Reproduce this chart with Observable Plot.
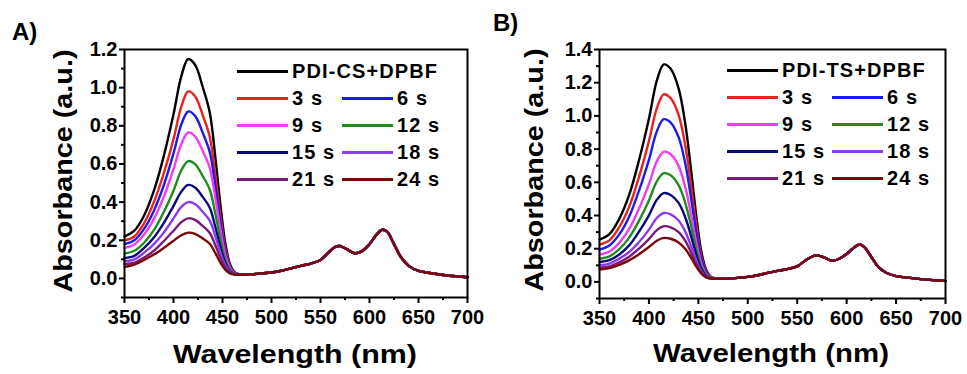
<!DOCTYPE html>
<html>
<head>
<meta charset="utf-8">
<script src="https://cdn.jsdelivr.net/npm/d3@7"></script>
<script src="https://cdn.jsdelivr.net/npm/@observablehq/plot@0.6"></script>
<style>
  html, body { margin: 0; padding: 0; background: #fff; }
  #wrap { position: relative; width: 967px; height: 374px; overflow: hidden; font-family: "Liberation Sans", Arial, sans-serif; font-weight: bold; color: #000; }
  .panel { position: absolute; top: 0; height: 374px; }
  .letter { position: absolute; font-size: 24px; line-height: 24px; }
  .legend { position: absolute; display: grid; grid-template-columns: 105px auto; grid-auto-rows: 27px; font-size: 20px; letter-spacing: 1.1px; }
  .legend .cell { display: flex; align-items: center; white-space: nowrap; }
  .legend .cell.wide { grid-column: 1 / span 2; }
  .legend .sw { display: inline-block; width: 51px; height: 3px; margin-right: 4px; }
  .legend .tx { line-height: 1; }
</style>
</head>
<body>
<div id="wrap">
  <div class="panel" id="pA" style="left:0; width:483px;"></div>
  <div class="panel" id="pB" style="left:483px; width:484px;"></div>
</div>
<script>
// ---- data ----
const seriesNames = ["DPBF", "3 s", "6 s", "9 s", "12 s", "15 s", "18 s", "21 s", "24 s"];
const seriesColors = ["#000000", "#e8221f", "#1c1ce6", "#f23cf2", "#1f8c1f", "#0a0a7a", "#8a3cec", "#7a1a7a", "#7a0a0a"];
const legendNamesA = ["PDI-CS+DPBF", "3 s", "6 s", "9 s", "12 s", "15 s", "18 s", "21 s", "24 s"];
const legendNamesB = ["PDI-TS+DPBF", "3 s", "6 s", "9 s", "12 s", "15 s", "18 s", "21 s", "24 s"];

const headW = [350, 360, 370, 380, 390, 400, 408, 415, 422, 430, 437, 443, 448, 453, 458, 463, 470];
const tailW = [480, 490, 500, 510, 520, 530, 540, 550, 558, 565, 570, 577, 585, 592, 600, 607, 613, 618, 625, 632, 640, 650, 660, 675, 690, 700];

// Panel A (PDI-CS + DPBF)
const headA_black   = [0.22, 0.25, 0.33, 0.46, 0.64, 0.86, 1.06, 1.15, 1.12, 1.00, 0.87, 0.62, 0.38, 0.18, 0.07, 0.03, 0.02];
const headA_red     = [0.20, 0.22, 0.29, 0.40, 0.55, 0.73, 0.90, 0.98, 0.955, 0.853, 0.742, 0.528, 0.323, 0.154, 0.062, 0.028, 0.02];
const headA_blue    = [0.18, 0.20, 0.26, 0.355, 0.487, 0.655, 0.807, 0.875, 0.852, 0.761, 0.662, 0.472, 0.289, 0.137, 0.055, 0.026, 0.02];
const headA_magenta = [0.16, 0.178, 0.23, 0.312, 0.426, 0.572, 0.705, 0.765, 0.745, 0.666, 0.579, 0.412, 0.252, 0.12, 0.05, 0.025, 0.02];
const headA_green   = [0.13, 0.145, 0.187, 0.253, 0.347, 0.46, 0.567, 0.615, 0.599, 0.535, 0.466, 0.331, 0.203, 0.097, 0.042, 0.024, 0.02];
const headA_navy    = [0.107, 0.118, 0.16, 0.215, 0.29, 0.38, 0.455, 0.49, 0.477, 0.426, 0.371, 0.264, 0.162, 0.08, 0.036, 0.022, 0.02];
const headA_violet  = [0.09, 0.10, 0.135, 0.18, 0.24, 0.315, 0.375, 0.40, 0.39, 0.348, 0.303, 0.216, 0.134, 0.067, 0.032, 0.021, 0.02];
const headA_purple  = [0.075, 0.083, 0.11, 0.145, 0.195, 0.25, 0.295, 0.315, 0.307, 0.274, 0.238, 0.17, 0.106, 0.055, 0.028, 0.02, 0.019];
const headA_wine    = [0.06, 0.072, 0.097, 0.125, 0.16, 0.198, 0.226, 0.24, 0.234, 0.209, 0.182, 0.13, 0.082, 0.045, 0.025, 0.02, 0.019];
const tailA = [0.022, 0.026, 0.031, 0.04, 0.053, 0.066, 0.078, 0.097, 0.135, 0.165, 0.17, 0.152, 0.132, 0.142, 0.18, 0.228, 0.255, 0.245, 0.18, 0.112, 0.066, 0.04, 0.03, 0.018, 0.01, 0.006];

// Panel B (PDI-TS + DPBF)
const headB_black   = [0.255, 0.288, 0.38, 0.524, 0.734, 0.983, 1.212, 1.31, 1.284, 1.166, 0.943, 0.655, 0.393, 0.183, 0.072, 0.03, 0.02];
const headB_red     = [0.225, 0.25, 0.33, 0.452, 0.633, 0.848, 1.045, 1.13, 1.107, 1.006, 0.814, 0.565, 0.339, 0.158, 0.064, 0.028, 0.02];
const headB_blue    = [0.195, 0.219, 0.286, 0.393, 0.55, 0.735, 0.907, 0.98, 0.96, 0.872, 0.706, 0.49, 0.294, 0.137, 0.056, 0.025, 0.02];
const headB_magenta = [0.165, 0.183, 0.235, 0.319, 0.442, 0.589, 0.726, 0.785, 0.769, 0.699, 0.565, 0.393, 0.236, 0.11, 0.046, 0.023, 0.02];
const headB_green   = [0.14, 0.154, 0.197, 0.267, 0.369, 0.491, 0.606, 0.655, 0.642, 0.583, 0.472, 0.328, 0.197, 0.094, 0.04, 0.022, 0.02];
const headB_navy    = [0.12, 0.131, 0.165, 0.22, 0.303, 0.401, 0.495, 0.535, 0.524, 0.476, 0.385, 0.268, 0.162, 0.079, 0.035, 0.021, 0.02];
const headB_violet  = [0.10, 0.11, 0.14, 0.18, 0.24, 0.315, 0.385, 0.415, 0.407, 0.37, 0.30, 0.21, 0.128, 0.065, 0.03, 0.02, 0.019];
const headB_purple  = [0.085, 0.093, 0.118, 0.152, 0.20, 0.258, 0.312, 0.335, 0.329, 0.30, 0.245, 0.172, 0.107, 0.056, 0.028, 0.02, 0.019];
const headB_wine    = [0.075, 0.083, 0.103, 0.13, 0.167, 0.21, 0.248, 0.265, 0.26, 0.238, 0.197, 0.142, 0.09, 0.05, 0.027, 0.02, 0.019];
const tailB = [0.02, 0.024, 0.03, 0.04, 0.054, 0.066, 0.077, 0.094, 0.128, 0.153, 0.16, 0.148, 0.128, 0.138, 0.168, 0.205, 0.225, 0.21, 0.15, 0.09, 0.055, 0.035, 0.027, 0.017, 0.01, 0.006];

const xTicks = [350, 400, 450, 500, 550, 600, 650, 700];
const xMinorTicks = [375, 425, 475, 525, 575, 625, 675];
const yTicksA = [0.0, 0.2, 0.4, 0.6, 0.8, 1.0, 1.2];
const yMinorA = [-0.1, 0.1, 0.3, 0.5, 0.7, 0.9, 1.1];
const yTicksB = [0.0, 0.2, 0.4, 0.6, 0.8, 1.0, 1.2, 1.4];
const yMinorB = [-0.1, 0.1, 0.3, 0.5, 0.7, 0.9, 1.1, 1.3];

// ---- build tables ----
const headsA = [headA_black, headA_red, headA_blue, headA_magenta, headA_green, headA_navy, headA_violet, headA_purple, headA_wine];
const headsB = [headB_black, headB_red, headB_blue, headB_magenta, headB_green, headB_navy, headB_violet, headB_purple, headB_wine];
function buildRows(heads, tail) {
  const rows = [];
  heads.forEach((h, i) => {
    headW.forEach((w, j) => rows.push({series: seriesNames[i], w, v: h[j]}));
    tailW.forEach((w, j) => rows.push({series: seriesNames[i], w, v: tail[j]}));
  });
  return rows;
}
const rowsA = buildRows(headsA, tailA);
const rowsB = buildRows(headsB, tailB);

function makePanel(el, cfg) {
  const svg = Plot.plot({
    width: cfg.width, height: 374,
    marginLeft: cfg.ml, marginRight: cfg.mr, marginTop: 49, marginBottom: cfg.mb,
    x: {domain: [350, 700]},
    y: {domain: cfg.ydom},
    color: {domain: seriesNames, range: seriesColors},
    style: {fontFamily: '"Liberation Sans", Arial, sans-serif', fontSize: "20px", fontWeight: "bold", color: "#000", background: "transparent", overflow: "visible"},
    marks: [
      Plot.line(cfg.rows, {x: "w", y: "v", z: "series", stroke: "series", strokeWidth: 2.4, curve: "catmull-rom"}),
      Plot.frame({stroke: "#000", strokeWidth: 2}),
      Plot.axisX({ticks: xTicks, tickSize: 6, tickPadding: 6, tickFormat: d => String(d), label: null, strokeWidth: 2}),
      Plot.axisX({ticks: xMinorTicks, tickSize: 3, tickFormat: () => "", label: null, strokeWidth: 2}),
      Plot.axisY({ticks: cfg.yticks, tickSize: 5, tickPadding: 2, tickFormat: d3.format(".1f"), label: null, strokeWidth: 2}),
      Plot.axisY({ticks: cfg.yminor, tickSize: 3, tickFormat: () => "", label: null, strokeWidth: 2})
    ]
  });
  const s = d3.select(svg);
  s.append("text")
    .attr("x", cfg.xtitleX).attr("y", cfg.xtitleY)
    .attr("text-anchor", "middle")
    .attr("font-size", 26).attr("font-weight", "bold").attr("fill", "#000")
    .attr("textLength", cfg.xtitleLen).attr("lengthAdjust", "spacingAndGlyphs")
    .text("Wavelength (nm)");
  s.append("text")
    .attr("transform", `translate(${cfg.ytitleX},${cfg.ytitleY}) rotate(-90)`)
    .attr("text-anchor", "middle")
    .attr("font-size", 26).attr("font-weight", "bold").attr("fill", "#000")
    .attr("textLength", 243).attr("lengthAdjust", "spacingAndGlyphs")
    .text("Absorbance (a.u.)");
  el.appendChild(svg);

  const letter = document.createElement("div");
  letter.className = "letter";
  letter.style.left = cfg.letterX + "px";
  letter.style.top = cfg.letterY + "px";
  letter.textContent = cfg.letter;
  el.appendChild(letter);

  const lg = document.createElement("div");
  lg.className = "legend";
  lg.style.left = cfg.legX + "px";
  lg.style.top = cfg.legY + "px";
  cfg.legendNames.forEach((name, i) => {
    const c = document.createElement("div");
    c.className = "cell" + (i === 0 ? " wide" : "");
    const sw = document.createElement("span");
    sw.className = "sw";
    sw.style.background = seriesColors[i];
    const tx = document.createElement("span");
    tx.className = "tx";
    tx.textContent = name;
    c.appendChild(sw); c.appendChild(tx);
    lg.appendChild(c);
  });
  el.appendChild(lg);
}

makePanel(document.getElementById("pA"), {
  width: 483, ml: 124, mr: 16, mb: 77, ydom: [-0.1, 1.2], rows: rowsA,
  yticks: yTicksA, yminor: yMinorA,
  xtitleX: 295, xtitleY: 363, xtitleLen: 244, ytitleX: 72, ytitleY: 171,
  letter: "A)", letterX: 12, letterY: 20,
  legX: 237, legY: 57.5, legendNames: legendNamesA
});
makePanel(document.getElementById("pB"), {
  width: 484, ml: 116, mr: 22, mb: 76, ydom: [-0.1, 1.4], rows: rowsB,
  yticks: yTicksB, yminor: yMinorB,
  xtitleX: 288, xtitleY: 362, xtitleLen: 236, ytitleX: 60, ytitleY: 170,
  letter: "B)", letterX: 10, letterY: 11,
  legX: 244, legY: 56.5, legendNames: legendNamesB
});
</script>
</body>
</html>
